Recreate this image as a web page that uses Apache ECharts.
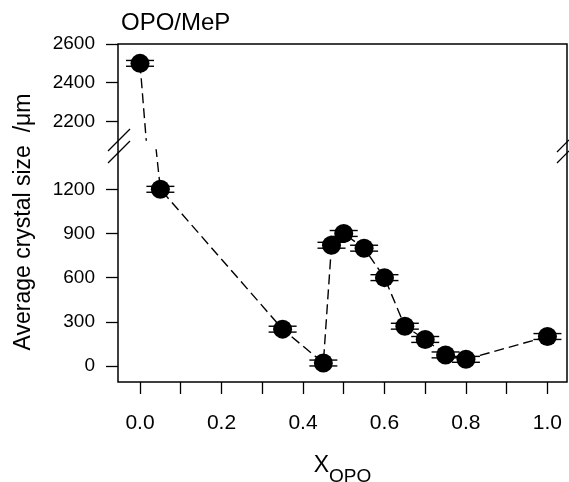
<!DOCTYPE html>
<html><head><meta charset="utf-8">
<script src="https://cdn.jsdelivr.net/npm/echarts@6/dist/echarts.min.js"></script>
<style>html,body{margin:0;padding:0;background:#fff}#c{width:569px;height:482px}</style>
</head><body><div id="c"></div>
<script>
// ---- data ----
const xOPO = [0.0, 0.05, 0.35, 0.45, 0.47, 0.50, 0.55, 0.60, 0.65, 0.70, 0.75, 0.80, 1.0];
const crystalSize = [2500, 1200, 250, 20, 820, 900, 800, 600, 270, 180, 75, 45, 200];
const sizeError = [15, 20, 20, 20, 20, 20, 20, 20, 20, 20, 20, 20, 20];
const xTicks = [0, 0.1, 0.2, 0.3, 0.4, 0.5, 0.6, 0.7, 0.8, 0.9, 1.0];
const xTickLabels = [0, 0.2, 0.4, 0.6, 0.8, 1.0];
const upperTicks = [2200, 2400, 2600];
const lowerTicks = [0, 300, 600, 900, 1200];
const titleText = 'OPO/MeP';
const yName = 'Average crystal size  /\u03bcm';

// ---- chart ----
const FONT = 'Liberation Sans, Arial, sans-serif';
const pts = xOPO.map((x, i) => [x, crystalSize[i], sizeError[i]]);
const lineData = xOPO.map((x, i) => [x, crystalSize[i]]);
const X_MIN = -0.054, X_MAX = 1.048;

function errRender(params, api) {
  const x = api.value(0), y = api.value(1), e = api.value(2);
  const t = api.coord([x, y + e]);
  const b = api.coord([x, y - e]);
  const hw = 14;
  const st = { stroke: '#000', lineWidth: 1.4 };
  return { type: 'group', children: [
    { type: 'line', shape: { x1: t[0] - hw, y1: t[1], x2: t[0] + hw, y2: t[1] }, style: st },
    { type: 'line', shape: { x1: b[0] - hw, y1: b[1], x2: b[0] + hw, y2: b[1] }, style: st },
    { type: 'line', shape: { x1: t[0], y1: t[1], x2: b[0], y2: b[1] }, style: st }
  ]};
}

const hiddenX = (gi) => ({
  type: 'value', gridIndex: gi, min: X_MIN, max: X_MAX,
  axisLine: { show: false, onZero: false }, axisTick: { show: false }, axisLabel: { show: false }, splitLine: { show: false }
});
const gridBase = { left: 118, right: 2, containLabel: false, outerBoundsMode: 'none' };

const chart = echarts.init(document.getElementById('c'), null, { renderer: 'canvas' });
chart.setOption({
  animation: false,
  backgroundColor: '#fff',
  title: {
    text: titleText, left: 121, top: 11, padding: 0,
    textStyle: { fontFamily: FONT, fontSize: 24, fontWeight: 'normal', color: '#000' }
  },
  grid: [
    Object.assign({}, gridBase, { top: 44, bottom: 100, show: true, borderColor: '#000', borderWidth: 1.5, backgroundColor: 'transparent' }),
    Object.assign({}, gridBase, { top: 44, bottom: 342 }),
    Object.assign({}, gridBase, { top: 150, bottom: 100 })
  ],
  xAxis: [
    hiddenX(0),
    hiddenX(1),
    {
      type: 'value', gridIndex: 2, min: X_MIN, max: X_MAX, position: 'bottom',
      axisLine: { show: false, onZero: false },
      axisTick: { show: true, inside: false, length: 12, customValues: xTicks, lineStyle: { color: '#000', width: 1.3 } },
      axisLabel: { show: true, customValues: xTickLabels, margin: 31, formatter: v => v.toFixed(1),
        fontFamily: FONT, fontSize: 21, color: '#000' },
      splitLine: { show: false },
      name: '{x|X}{s|OPO}', nameLocation: 'middle', nameGap: 72,
      nameTextStyle: {
        verticalAlign: 'top',
        rich: {
          x: { fontFamily: FONT, fontSize: 23, lineHeight: 23, verticalAlign: 'top', color: '#000' },
          s: { fontFamily: FONT, fontSize: 19, lineHeight: 19, verticalAlign: 'top', padding: [13, 0, 0, 0], color: '#000' }
        }
      }
    }
  ],
  yAxis: [
    {
      type: 'value', gridIndex: 0, min: 0, max: 1,
      axisLine: { show: false, onZero: false }, axisTick: { show: false }, axisLabel: { show: false }, splitLine: { show: false },
      name: yName, nameLocation: 'middle', nameGap: 83,
      nameTextStyle: { fontFamily: FONT, fontSize: 23, color: '#000', padding: [0, 18, 0, 0] }
    },
    {
      type: 'value', gridIndex: 1, min: 2104, max: 2600, position: 'left',
      axisLine: { show: false, onZero: false },
      axisTick: { show: true, inside: false, length: 12, customValues: upperTicks, lineStyle: { color: '#000', width: 1.3 } },
      axisLabel: { show: true, customValues: upperTicks, margin: 23, formatter: v => String(v), fontFamily: FONT, fontSize: 19, color: '#000' },
      splitLine: { show: false }
    },
    {
      type: 'value', gridIndex: 2, min: -109, max: 1467, position: 'left',
      axisLine: { show: false, onZero: false },
      axisTick: { show: true, inside: false, length: 12, customValues: lowerTicks, lineStyle: { color: '#000', width: 1.3 } },
      axisLabel: { show: true, customValues: lowerTicks, margin: 23, formatter: v => String(v), fontFamily: FONT, fontSize: 19, color: '#000' },
      splitLine: { show: false }
    }
  ],
  graphic: [
    { type: 'line', shape: { x1: 108, y1: 151, x2: 130, y2: 129 }, style: { stroke: '#000', lineWidth: 1.2 } },
    { type: 'line', shape: { x1: 108, y1: 163, x2: 130, y2: 141 }, style: { stroke: '#000', lineWidth: 1.2 } },
    { type: 'line', shape: { x1: 557, y1: 152, x2: 569, y2: 140 }, style: { stroke: '#000', lineWidth: 1.2 } },
    { type: 'line', shape: { x1: 557, y1: 163, x2: 569, y2: 151 }, style: { stroke: '#000', lineWidth: 1.2 } }
  ],
  series: [1, 2].flatMap(g => [
    { type: 'line', xAxisIndex: g, yAxisIndex: g, data: lineData, symbol: 'none', clip: true, z: 1,
      lineStyle: { color: '#000', width: 1.4, type: [10, 5] } },
    { type: 'custom', xAxisIndex: g, yAxisIndex: g, data: pts, renderItem: errRender, clip: true, z: 2,
      encode: { x: 0, y: 1 } },
    { type: 'scatter', xAxisIndex: g, yAxisIndex: g, data: lineData, symbol: 'circle', symbolSize: 19, clip: true, z: 3,
      itemStyle: { color: '#000', opacity: 1 } }
  ])
});
</script>
</body></html>
